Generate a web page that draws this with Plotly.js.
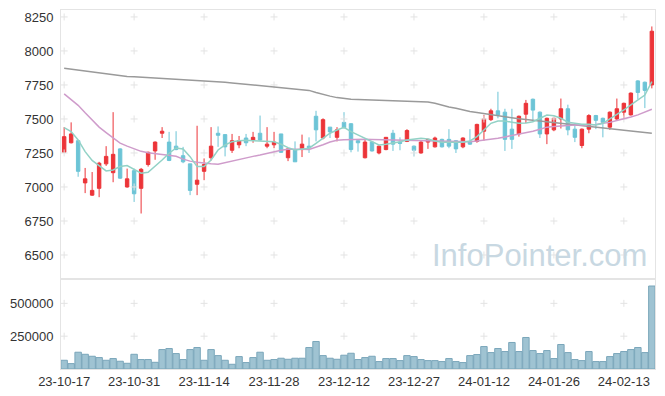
<!DOCTYPE html>
<html>
<head>
<meta charset="utf-8">
<script src="https://cdn.plot.ly/plotly-3.0.1.min.js"></script>
<style>html,body{margin:0;padding:0;background:#fff;}#chart{width:665px;height:396px;}</style>
</head>
<body>
<div id="chart"></div>
<script>
const dates = ['23-10-17','23-10-18','23-10-19','23-10-20','23-10-23','23-10-24','23-10-25','23-10-26','23-10-27','23-10-30','23-10-31',
'23-11-01','23-11-02','23-11-03','23-11-06','23-11-07','23-11-08','23-11-09','23-11-10','23-11-13','23-11-14',
'23-11-15','23-11-16','23-11-17','23-11-20','23-11-21','23-11-22','23-11-23','23-11-24','23-11-27','23-11-28',
'23-11-29','23-11-30','23-12-01','23-12-04','23-12-05','23-12-06','23-12-07','23-12-08','23-12-11','23-12-12',
'23-12-13','23-12-14','23-12-15','23-12-18','23-12-19','23-12-20','23-12-21','23-12-22','23-12-26','23-12-27',
'23-12-28','24-01-02','24-01-03','24-01-04','24-01-05','24-01-08','24-01-09','24-01-10','24-01-11','24-01-12',
'24-01-15','24-01-16','24-01-17','24-01-18','24-01-19','24-01-22','24-01-23','24-01-24','24-01-25','24-01-26',
'24-01-29','24-01-30','24-01-31','24-02-01','24-02-02','24-02-05','24-02-06','24-02-07','24-02-08','24-02-13',
'24-02-14','24-02-15','24-02-16','24-02-19'];

const open  = [7255,7325,7340,7030,6940,6990,7170,7105,7280,7000,7120,6990,7165,7265,7395,7330,7300,7230,7170,7020,7115,7215,7395,7385,7270,7310,7360,7345,7395,7300,7310,7390,7215,7275,7275,7300,7520,7360,7440,7365,7475,7465,7340,7215,7330,7250,7275,7395,7330,7335,7300,7250,7330,7295,7350,7350,7340,7295,7330,7335,7410,7495,7560,7550,7425,7390,7535,7645,7550,7390,7420,7500,7575,7425,7305,7425,7525,7505,7440,7500,7550,7530,7780,7770,7750];
const high  = [7440,7475,7340,7140,7110,7185,7300,7550,7285,7135,7135,7140,7260,7335,7440,7405,7410,7295,7170,7450,7210,7440,7445,7385,7390,7375,7390,7405,7525,7440,7405,7390,7280,7335,7385,7365,7560,7505,7440,7440,7550,7470,7345,7345,7330,7305,7365,7420,7365,7425,7305,7340,7355,7370,7355,7425,7345,7365,7425,7465,7530,7575,7700,7575,7575,7525,7640,7650,7555,7510,7510,7650,7605,7450,7430,7535,7530,7510,7555,7650,7620,7695,7785,7775,8180];
const low   = [7250,7320,7075,6955,6935,6925,7155,7035,7060,6995,6890,6805,7150,7200,7360,7190,7270,7175,6940,6940,7050,7195,7295,7225,7250,7285,7300,7325,7340,7285,7285,7250,7190,7185,7220,7250,7335,7350,7360,7335,7430,7255,7260,7210,7260,7240,7270,7265,7270,7330,7225,7245,7280,7290,7290,7285,7250,7285,7310,7325,7340,7485,7505,7265,7280,7370,7470,7480,7360,7315,7410,7430,7380,7330,7285,7395,7425,7365,7420,7490,7500,7525,7645,7580,7725];
const close = [7370,7390,7115,7060,6975,7175,7225,7240,7065,7060,6950,7130,7255,7330,7410,7195,7275,7185,6975,7050,7165,7300,7380,7295,7340,7340,7325,7365,7345,7315,7330,7255,7280,7185,7315,7290,7420,7495,7405,7420,7435,7275,7325,7330,7265,7300,7365,7315,7320,7415,7270,7330,7350,7360,7295,7300,7280,7360,7315,7460,7500,7560,7530,7350,7350,7520,7615,7565,7390,7505,7505,7575,7420,7365,7425,7525,7490,7475,7550,7575,7615,7690,7695,7710,8145];

const ma5  = [7436,7407,7346,7260,7195,7155,7118,7125,7150,7157,7130,7101,7108,7150,7198,7248,7287,7279,7223,7150,7150,7198,7272,7309,7333,7340,7343,7340,7338,7336,7333,7314,7289,7272,7277,7285,7321,7358,7395,7419,7439,7407,7382,7358,7329,7309,7314,7321,7333,7346,7353,7358,7353,7338,7329,7329,7329,7329,7338,7370,7419,7468,7485,7485,7476,7468,7470,7480,7505,7529,7524,7505,7476,7468,7461,7461,7456,7468,7500,7535,7566,7603,7640,7676,7774];
const ma20 = [7685,7640,7600,7545,7495,7440,7400,7362,7322,7300,7280,7262,7252,7245,7240,7232,7226,7205,7190,7182,7175,7170,7168,7180,7193,7205,7215,7225,7235,7248,7260,7270,7277,7280,7278,7275,7290,7310,7330,7343,7348,7350,7351,7350,7349,7348,7347,7346,7346,7346,7345,7344,7342,7340,7338,7336,7335,7334,7333,7338,7343,7348,7358,7368,7378,7386,7395,7410,7425,7440,7445,7450,7453,7455,7456,7456,7460,7468,7475,7488,7500,7515,7530,7548,7571];
const ma60 = [7873,7866,7859,7852,7845,7838,7830,7823,7816,7813,7810,7807,7804,7801,7798,7795,7792,7789,7787,7785,7783,7779,7774,7770,7765,7760,7756,7751,7747,7742,7738,7733,7729,7724,7720,7710,7695,7680,7668,7657,7650,7645,7643,7641,7640,7638,7637,7635,7634,7633,7632,7630,7625,7615,7600,7588,7578,7566,7555,7548,7540,7531,7522,7513,7507,7501,7496,7490,7484,7478,7472,7466,7460,7454,7448,7442,7437,7432,7427,7421,7416,7411,7406,7400,7395];

const volume = [66500,41000,127700,112000,97000,87000,66500,79500,59000,43500,112000,72000,72000,51000,148000,156000,117500,72000,148000,163500,66500,148000,102000,66500,36000,94500,49000,87000,127700,66500,72000,82000,74000,82000,82000,163500,209500,102000,82000,74000,105000,120000,72000,87000,97000,56500,79500,79500,64000,102000,94500,72000,64000,64000,56500,79500,56500,49000,102000,110000,171000,125000,156000,133000,202000,133000,240000,140500,117500,140500,79500,186500,125000,72000,64000,133000,56500,56500,94500,117500,133000,148000,163500,125000,632000];

const xTickLabels = ['23-10-17','23-10-31','23-11-14','23-11-28','23-12-12','23-12-27','24-01-12','24-01-26','24-02-13'];
const priceTicks = [6500,6750,7000,7250,7500,7750,8000,8250];
const volumeTicks = [250000,500000];

const RED = '#ec3438', BLUE = '#6cc4d6';
const gridCross = {color:'rgba(0,0,0,0)', size:5, symbol:'cross-thin', line:{color:'#e3e3e3', width:1}};

function crosses(yvals, ya){
  const xs=[], ys=[];
  xTickLabels.forEach(x=>yvals.forEach(y=>{xs.push(x);ys.push(y);}));
  return {type:'scatter', mode:'markers', x:xs, y:ys, xaxis: ya==='y'?'x':'x2', yaxis:ya, marker:gridCross, hoverinfo:'skip', showlegend:false};
}

const traces = [
  crosses(priceTicks,'y'),
  crosses(volumeTicks,'y2'),
  {type:'candlestick', x:dates, open:open, high:high, low:low, close:close, xaxis:'x', yaxis:'y',
   increasing:{line:{color:RED,width:1}, fillcolor:RED},
   decreasing:{line:{color:BLUE,width:1}, fillcolor:BLUE},
   whiskerwidth:0, showlegend:false, hoverinfo:'none'},
  {type:'scatter', mode:'lines', x:dates, y:ma60, xaxis:'x', yaxis:'y', line:{color:'#9a9a9a', width:1.5}, showlegend:false, hoverinfo:'skip'},
  {type:'scatter', mode:'lines', x:dates, y:ma20, xaxis:'x', yaxis:'y', line:{color:'#cf9ccb', width:1.5}, showlegend:false, hoverinfo:'skip'},
  {type:'scatter', mode:'lines', x:dates, y:ma5, xaxis:'x', yaxis:'y', line:{color:'#92d2c6', width:1.5}, showlegend:false, hoverinfo:'skip'},
  {type:'bar', x:dates, y:volume, xaxis:'x2', yaxis:'y2', marker:{color:'#9fc3d2', line:{color:'#7aa6ba', width:1}}, showlegend:false, hoverinfo:'none'}
];

const axisFont = {family:'Liberation Sans, Arial, sans-serif', size:13, color:'#333'};
const layout = {
  width:665, height:396,
  margin:{l:61, r:10, t:10, b:27},
  paper_bgcolor:'#fff', plot_bgcolor:'#fff',
  showlegend:false, bargap:0.08,
  xaxis:{domain:[0,1], anchor:'y', type:'category', categoryorder:'array', categoryarray:dates, range:[-0.45,84.45], showticklabels:false, showgrid:false,
         showline:true, mirror:true, linecolor:'#e4e4e4', ticks:'', rangeslider:{visible:false}, fixedrange:true},
  yaxis:{domain:[0.2535,1], anchor:'x', range:[6331,8301], tickvals:priceTicks, ticks:'outside', ticklen:4, tickcolor:'rgba(0,0,0,0)',
         showgrid:false, zeroline:false, showline:true, mirror:true, linecolor:'#e4e4e4', tickfont:axisFont},
  xaxis2:{domain:[0,1], anchor:'y2', type:'category', categoryorder:'array', categoryarray:dates, matches:'x', range:[-0.45,84.45], tickvals:xTickLabels, ticktext:xTickLabels,
          showgrid:false, showline:true, mirror:true, linecolor:'#e4e4e4', ticks:'', tickfont:axisFont},
  yaxis2:{domain:[0,0.248], anchor:'x2', range:[0,678000], tickvals:volumeTicks, ticktext:volumeTicks.map(String), ticks:'outside', ticklen:4, tickcolor:'rgba(0,0,0,0)',
          showgrid:false, zeroline:false, showline:true, mirror:true, linecolor:'#e4e4e4', tickfont:axisFont},
  annotations:[{text:'InfoPointer.com', xref:'paper', yref:'paper', x:0.805, y:0.315, xanchor:'center', yanchor:'middle',
                showarrow:false, font:{family:'Liberation Sans, Arial, sans-serif', size:31, color:'#c8d8e2'}}]
};

Plotly.newPlot('chart', traces, layout, {staticPlot:true, displayModeBar:false});
</script>
</body>
</html>
